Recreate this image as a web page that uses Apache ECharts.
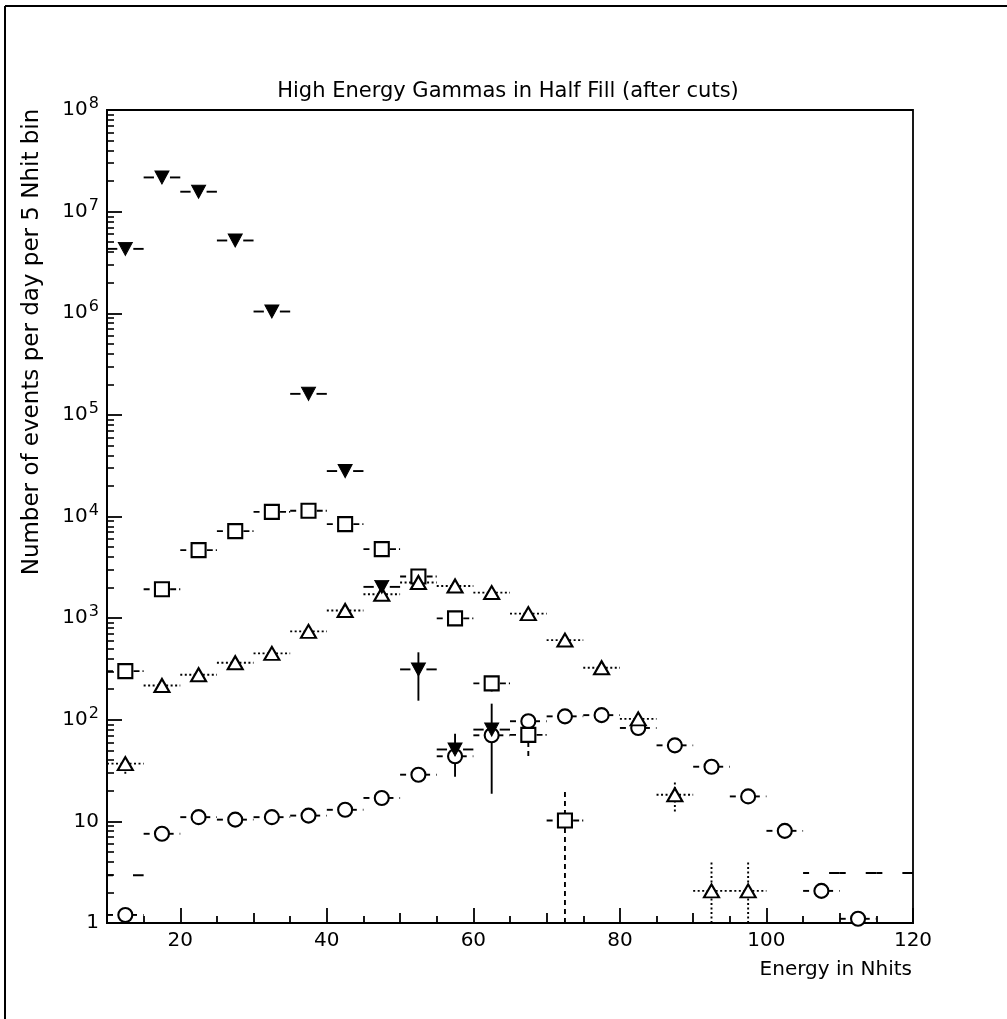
<!DOCTYPE html>
<html><head><meta charset="utf-8">
<script src="https://cdn.jsdelivr.net/npm/echarts@6/dist/echarts.min.js"></script>
<style>html,body{margin:0;padding:0;background:#fff}#c{width:1007px;height:1019px}</style>
</head><body><div id="c"></div>
<script>
const FONT = 'DejaVu Sans';
const HALF_BIN = 2.5;

// Filled down-triangles
const triFX  = [12.5,17.5,22.5,27.5,32.5,37.5,42.5,47.5,52.5,57.5,62.5];
const triFY  = [4.3e6,2.17e7,1.57e7,5.2e6,1.04e6,1.61e5,2.8e4,2030,313,51,80];
const triFLo = [null,null,null,null,null,null,null,null,154,27.5,18.7];
const triFHi = [null,null,null,null,null,null,null,null,461,73,144];

// Open squares
const sqX  = [12.5,17.5,22.5,27.5,32.5,37.5,42.5,47.5,52.5,57.5,62.5,67.5,72.5];
const sqY  = [301,1924,4670,7180,11100,11400,8410,4770,2566,995,228,71,10.2];
const sqLo = [265,null,null,null,null,null,null,null,null,null,190,44,1];
const sqHi = [null,null,null,null,null,null,null,null,null,null,275,null,20.5];

// Open up-triangles
const triOX  = [12.5,17.5,22.5,27.5,32.5,37.5,42.5,47.5,52.5,57.5,62.5,67.5,72.5,77.5,82.5,87.5,92.5,97.5];
const triOY  = [37,217,277,364,450,741,1187,1720,2240,2070,1784,1107,608,325,102,18.3,2.07,2.07];
const triOLo = [29.5,null,null,null,null,null,null,null,null,null,null,null,null,null,null,12.5,1,1];
const triOHi = [null,null,null,null,null,null,null,null,null,null,null,null,null,null,null,25,4.1,4.1];

// Open circles
const circX = [12.5,17.5,22.5,27.5,32.5,37.5,42.5,47.5,52.5,57.5,62.5,67.5,72.5,77.5,82.5,87.5,92.5,97.5,102.5,107.5,112.5];
const circY = [1.2,7.55,11.0,10.4,11.0,11.4,13.0,17.0,28.8,43.7,70.3,96.7,108,111,83,56,34.5,17.6,8.07,2.07,1.1];
const circLo = circX.map(() => null);
const circHi = circX.map(() => null);

// Bin bars without markers
const extraX = [12.5,107.5,112.5,117.5];
const extraY = [2.95,3.1,3.1,3.1];
const extraLo = extraX.map(() => null);
const extraHi = extraX.map(() => null);

// Axis ticks
const xMajorTicks = [20,40,60,80,100,120];
const xMidTicks = [30,50,70,90,110];
const xMinorTicks = [15,25,35,45,55,65,75,85,95,105,115];
const yMajorTicks = [1,10,100,1e3,1e4,1e5,1e6,1e7,1e8];
const yMinorTicks = [];
for (let e = 0; e < 8; e++) for (let m = 2; m <= 9; m++) yMinorTicks.push(m * Math.pow(10, e));

const LW = 1.9;

function barRenderer(lo, hi, hdash, vdash, gap) {
  return function (params, api) {
    const i = params.dataIndex;
    const x = api.value(0), y = api.value(1);
    const L = api.coord([x - HALF_BIN, y]);
    const R = api.coord([x + HALF_BIN, y]);
    const C = api.coord([x, y]);
    const hs = { stroke: '#000', lineWidth: LW, lineDash: hdash };
    const vs = { stroke: '#000', lineWidth: LW, lineDash: vdash };
    const children = [];
    if (gap) {
      children.push({ type: 'line', shape: { x1: L[0], y1: L[1], x2: C[0] - gap, y2: C[1] }, style: hs });
      children.push({ type: 'line', shape: { x1: C[0] + gap, y1: C[1], x2: R[0], y2: R[1] }, style: hs });
    } else {
      children.push({ type: 'line', shape: { x1: L[0], y1: L[1], x2: R[0], y2: R[1] }, style: hs });
    }
    if (lo[i] != null || hi[i] != null) {
      const P = api.coord([x, lo[i] != null ? lo[i] : y]);
      const Q = api.coord([x, hi[i] != null ? hi[i] : y]);
      children.push({ type: 'line', shape: { x1: P[0], y1: P[1], x2: Q[0], y2: Q[1] }, style: vs });
    }
    return { type: 'group', children };
  };
}

function pairs(xs, ys) { return xs.map((x, i) => [x, ys[i]]); }

function barSeries(xs, ys, lo, hi, hdash, vdash, gap) {
  return {
    type: 'custom', coordinateSystem: 'cartesian2d', xAxisIndex: 0, yAxisIndex: 0,
    data: pairs(xs, ys), renderItem: barRenderer(lo, hi, hdash, vdash, gap), silent: true, z: 2
  };
}

function markerSeries(xs, ys, symbol, size, filled, rotate) {
  return {
    type: 'scatter', xAxisIndex: 0, yAxisIndex: 0, data: pairs(xs, ys),
    symbol, symbolSize: size, symbolRotate: rotate || 0, z: 3,
    itemStyle: filled ? { color: '#000', borderColor: '#000', borderWidth: 1, opacity: 1 }
                      : { color: '#fff', borderColor: '#000', borderWidth: 2.1, opacity: 1 },
    emphasis: { disabled: true }, silent: true
  };
}

const chart = echarts.init(document.getElementById('c'), null, { renderer: 'canvas' });

const hiddenX = (ticks, len) => ({
  type: 'value', min: 10, max: 120, position: 'bottom', gridIndex: 0,
  axisLine: { show: false }, splitLine: { show: false }, axisLabel: { show: false },
  axisTick: { show: true, inside: true, length: len, customValues: ticks, lineStyle: { color: '#000', width: 1.8 } }
});

chart.setOption({
  animation: false,
  backgroundColor: '#fff',
  grid: { left: 107, right: 94, top: 110, bottom: 96, show: true, borderColor: '#000', borderWidth: 1.8, backgroundColor: 'transparent' },
  xAxis: [
    {
      type: 'value', min: 10, max: 120, position: 'bottom',
      axisLine: { show: true, onZero: false, lineStyle: { color: '#000', width: 2 } },
      splitLine: { show: false },
      axisTick: { show: true, inside: true, length: 15, customValues: xMajorTicks, lineStyle: { color: '#000', width: 1.8 } },
      axisLabel: { customValues: xMajorTicks, color: '#000', fontFamily: FONT, fontSize: 20, margin: 8 }
    },
    hiddenX(xMidTicks, 10),
    hiddenX(xMinorTicks, 7)
  ],
  yAxis: [
    {
      type: 'log', logBase: 10, min: 1, max: 1e8, position: 'left',
      axisLine: { show: true, lineStyle: { color: '#000', width: 2 } },
      splitLine: { show: false },
      axisTick: { show: true, inside: true, length: 15, customValues: yMajorTicks, lineStyle: { color: '#000', width: 1.8 } },
      axisLabel: {
        customValues: yMajorTicks, margin: 8, color: '#000',
        formatter: function (v) {
          const e = Math.round(Math.log10(v));
          if (e === 0) return '{b|1}';
          if (e === 1) return '{b|10}';
          return '{b|10}{s|' + e + '}';
        },
        rich: {
          b: { fontFamily: FONT, fontSize: 20, color: '#000' },
          s: { fontFamily: FONT, fontSize: 16, color: '#000', padding: [0, 0, 12, 1] }
        }
      }
    },
    {
      type: 'log', logBase: 10, min: 1, max: 1e8, position: 'left',
      axisLine: { show: false }, splitLine: { show: false }, axisLabel: { show: false },
      axisTick: { show: true, inside: true, length: 7, customValues: yMinorTicks, lineStyle: { color: '#000', width: 1.6 } }
    }
  ],
  graphic: [
    { type: 'line', shape: { x1: 5, y1: 6, x2: 5, y2: 1019 }, style: { stroke: '#000', lineWidth: 2 } },
    { type: 'line', shape: { x1: 5, y1: 6, x2: 1007, y2: 6 }, style: { stroke: '#000', lineWidth: 2 } },
    { type: 'text', x: 508, y: 92, style: { text: 'High Energy Gammas in Half Fill (after cuts)', font: '21px "DejaVu Sans"', fill: '#000', textAlign: 'center', textVerticalAlign: 'middle' } },
    { type: 'text', x: 912, y: 970, style: { text: 'Energy in Nhits', font: '20px "DejaVu Sans"', fill: '#000', textAlign: 'right', textVerticalAlign: 'middle' } },
    { type: 'text', x: 32, y: 342, rotation: Math.PI / 2, style: { text: 'Number of events per day per 5 Nhit bin', font: '23px "DejaVu Sans"', fill: '#000', textAlign: 'center', textVerticalAlign: 'middle' } }
  ],
  series: [
    barSeries(extraX, extraY, extraLo, extraHi, [6, 20, 10.5, 0], null, 0),
    barSeries(circX, circY, circLo, circHi, [6, 6], null, 0),
    barSeries(sqX, sqY, sqLo, sqHi, [6, 20.5, 6, 3, 1, 0], [5, 4], 0),
    barSeries(triOX, triOY, triOLo, triOHi, [2, 2.5], [2, 2.5], 0),
    barSeries(triFX, triFY, triFLo, triFHi, null, null, 8),
    markerSeries(circX, circY, 'circle', 14, false),
    markerSeries(sqX, sqY, 'rect', 14, false),
    markerSeries(triOX, triOY, 'triangle', [15, 13], false),
    markerSeries(triFX, triFY, 'triangle', [14, 13], true, 180)
  ]
});
</script>
</body></html>
